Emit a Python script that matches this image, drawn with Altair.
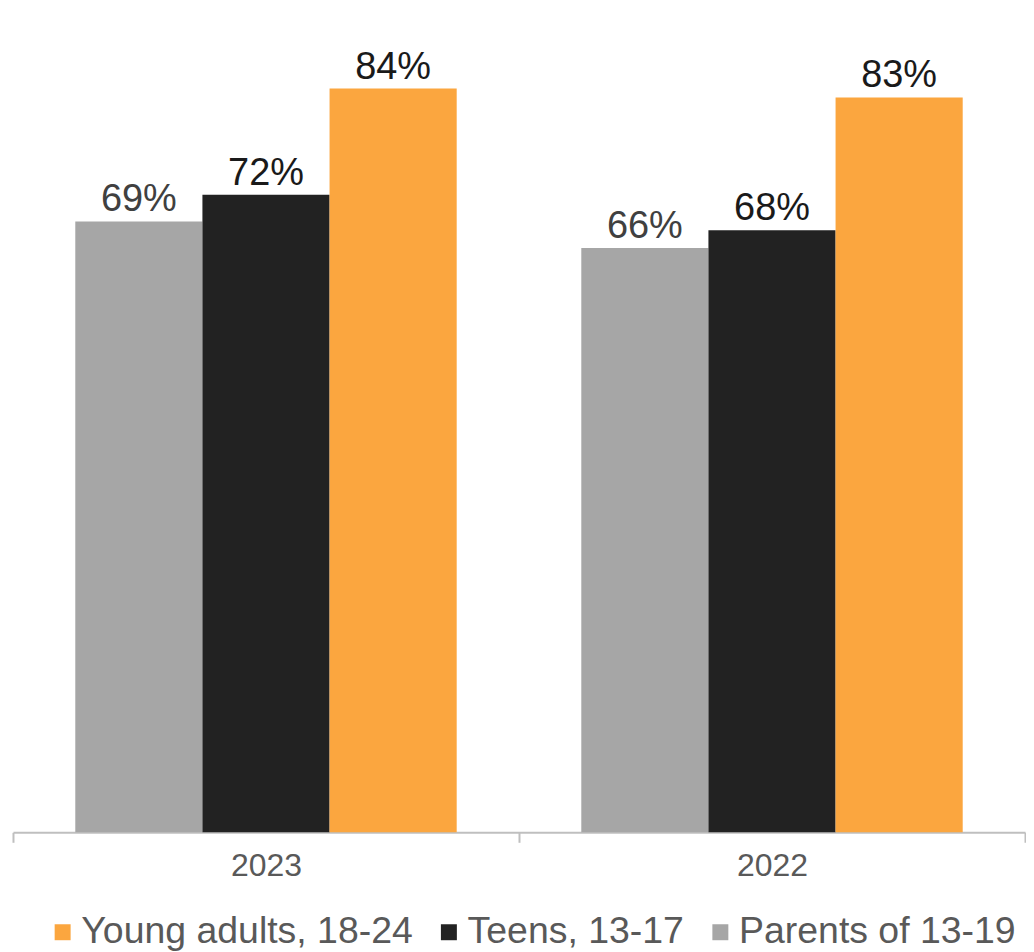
import altair as alt
import pandas as pd

years = ["2023", "2022"]
groups = ["Parents of 13-19", "Teens, 13-17", "Young adults, 18-24"]
parents = [69, 66]
teens = [72, 68]
young = [84, 83]

rows = []
for i, y in enumerate(years):
    for g, vals in zip(groups, [parents, teens, young]):
        rows.append({"Year": y, "Group": g, "Value": vals[i], "Label": f"{vals[i]}%"})
df = pd.DataFrame(rows)

legend_order = ["Young adults, 18-24", "Teens, 13-17", "Parents of 13-19"]
colors = ["#fba63f", "#222222", "#a6a6a6"]

FONT = "Liberation Sans"

base = alt.Chart(df).encode(
    x=alt.X("Year:N", sort=years, title=None,
            scale=alt.Scale(paddingInner=0, paddingOuter=0),
            axis=alt.Axis(labelAngle=0, labelFontSize=32, labelFont=FONT, labelColor="#595959",
                          domainColor="#bfbfbf", domainWidth=2, tickColor="#bfbfbf", tickWidth=2,
                          tickSize=10, tickBand="extent", labelPadding=8, grid=False)),
    xOffset=alt.XOffset("Group:N", sort=groups,
                        scale=alt.Scale(paddingInner=0, paddingOuter=0.49)),
    y=alt.Y("Value:Q", scale=alt.Scale(domain=[0, 93]), axis=None),
)

bars = base.mark_bar().encode(
    color=alt.Color("Group:N", scale=alt.Scale(domain=legend_order, range=colors),
                    legend=alt.Legend(title=None, orient="none", direction="horizontal",
                                      legendX=31, legendY=906,
                                      labelFontSize=37.5, labelFont=FONT, labelColor="#595959",
                                      symbolType="square", symbolSize=256, symbolStrokeWidth=0,
                                      labelOffset=0, columnPadding=17, labelLimit=0))
)

labels = base.mark_text(baseline="alphabetic", dy=-10, fontSize=38, font=FONT).encode(
    text="Label:N",
    color=alt.condition(alt.datum.Group == "Parents of 13-19", alt.value("#404040"), alt.value("#1a1a1a")),
)

chart = alt.layer(bars, labels).properties(
    width=1014, height=825,
    padding={"left": 4, "top": 0, "right": 0, "bottom": 0},
).configure_view(stroke=None)

chart.save("out.html", embed_options={"renderer": "svg", "actions": False})
